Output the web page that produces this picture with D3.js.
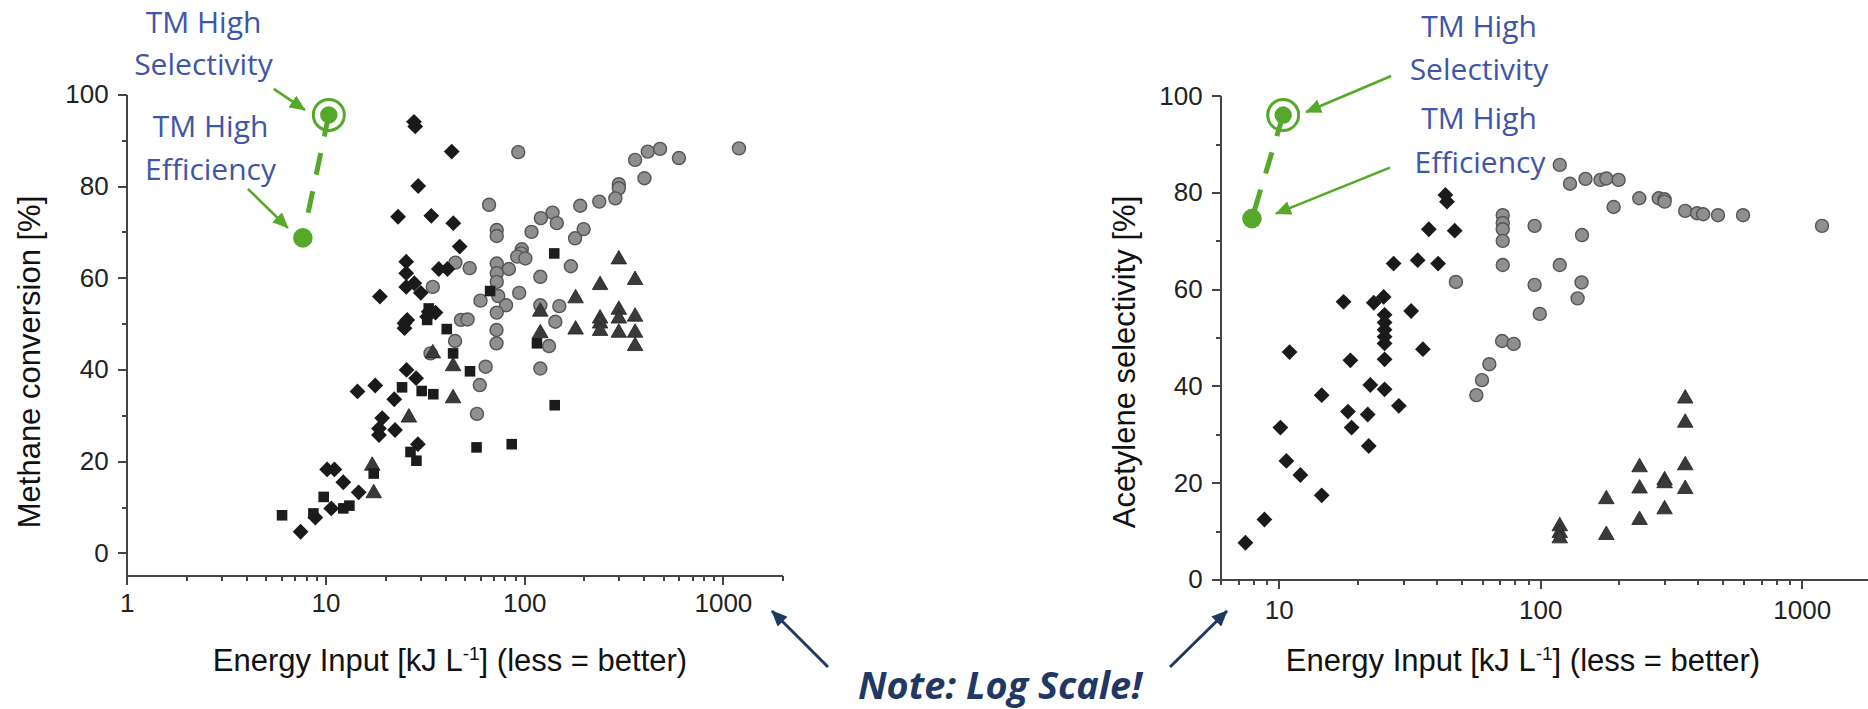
<!DOCTYPE html>
<html>
<head>
<meta charset="utf-8">
<title>Energy input vs methane conversion and acetylene selectivity</title>
<style>
body { margin: 0; background: #ffffff; }
svg { display: block; }
.axis path, .axis line { fill: none; stroke: #444444; stroke-width: 2px; shape-rendering: crispEdges; }
.axis text { font-family: "Liberation Sans", Arial, sans-serif; font-size: 26px; fill: #222222; }
.title { font-family: "Liberation Sans", Arial, sans-serif; font-size: 31px; fill: #111111; }
.tm { font-family: "Open Sans", sans-serif; font-size: 30px; fill: #3f56a6; }
.note { font-family: "Open Sans", sans-serif; font-size: 37px; font-weight: bold; font-style: italic; fill: #1f3864; }
</style>
</head>
<body>
<script src="https://d3js.org/d3.v7.min.js"></script>
<script>
'use strict';

// tick values / labels
const xMajor = [1, 10, 100, 1000];
const yMajor = [0, 20, 40, 60, 80, 100];
const yMinor = [10, 30, 50, 70, 90];

// left panel: methane conversion [%] vs energy input [kJ/L]
const convDiamond = [[7.5,4.6],[8.9,7.7],[10.7,9.7],[10.2,18.2],[11.1,18.2],[12.3,15.4],[14.7,13.2],[14.5,35.2],
  [17.8,36.5],[19.3,29.4],[18.6,27.1],[18.6,25.7],[22.2,33.5],[22.4,26.8],[25.6,39.9],[28.6,38.1],[29.2,23.7],
  [25.0,50.1],[25.0,49.0],[25.8,50.8],[33.1,52.6],[35.8,52.4],[27.9,94.0],[28.3,93.0],[43.2,87.5],[29.3,80.0],
  [23.2,73.3],[34.1,73.5],[44.0,71.9],[47.4,66.8],[37.2,61.9],[41.1,61.9],[25.5,63.5],[25.5,61.0],[25.5,58.0],
  [28.0,58.8],[30.2,56.7],[18.8,55.9],[32.5,51.5]];
const convSquare = [[6.05,8.2],[8.7,8.6],[9.8,12.2],[12.3,9.7],[13.2,10.3],[17.5,17.3],[24.3,36.1],[30.5,35.3],
  [34.9,34.6],[26.8,22.0],[28.7,20.1],[40.8,48.8],[43.9,43.5],[53.4,39.6],[57.6,23.0],[86.6,23.7],[33.1,53.3],
  [32.5,50.8],[67.4,57.1],[141.7,65.3],[116,45.7],[142.5,32.2]];
const convTriangle = [[17.5,13.0],[17.2,19.0],[26.3,29.5],[34.7,43.5],[43.9,40.7],[43.9,33.7],[120.6,52.6],
  [120.6,47.9],[299.5,64.0],[241,58.4],[361.6,59.5],[181.6,55.5],[299.5,53.0],[299.5,51.1],[241,51.1],[241,50.0],
  [361.6,51.5],[181.6,48.7],[241,48.4],[299.5,48.0],[361.6,48.0],[361.6,45.1]];
const convCircle = [[93.4,87.4],[361.6,85.7],[418.9,87.5],[483,88.1],[601,86.1],[1205,88.2],[403,81.7],[299.5,80.4],
  [299.5,79.5],[287.7,77.3],[238.8,76.6],[191.5,75.7],[139,74.2],[121.3,73.0],[146,71.9],[108.9,70.0],[199.2,70.6],
  [180.4,68.6],[66.6,75.9],[72.8,70.4],[72.8,69.1],[171.8,62.5],[120.6,60.2],[150.3,53.8],[143.5,50.4],[133.4,45.1],
  [94.4,56.7],[120.6,54.0],[97.3,66.2],[96.6,65.3],[92.3,64.6],[101.4,64.2],[83.8,61.9],[72.8,63.1],[72.8,61.0],
  [72.8,59.1],[53.2,62.1],[45.1,63.3],[34.7,58.0],[60.3,55.0],[74.1,56.0],[81.1,54.0],[72.8,52.4],[48.1,50.8],
  [51.9,50.9],[72.6,48.6],[72.6,45.7],[44.9,46.2],[64.0,40.6],[59.8,36.6],[120.6,40.2],[57.9,30.3],[33.8,43.5]];
// TM points: [high efficiency, high selectivity]
const convTM = [[7.7,68.7],[10.4,95.5]];

// right panel: acetylene selectivity [%] vs energy input [kJ/L]
const selDiamond = [[7.46,7.6],[8.82,12.4],[10.15,31.4],[10.7,24.5],[11.0,47.0],[12.1,21.6],[14.6,38.1],[14.6,17.4],
  [18.4,34.7],[18.8,45.3],[19.0,31.4],[22.1,27.6],[21.9,34.1],[22.4,40.2],[25.4,39.3],[25.4,45.5],[25.4,48.8],
  [25.4,50.2],[25.4,51.6],[25.4,53.1],[25.4,54.7],[28.8,35.9],[35.6,47.6],[43.4,79.5],[44.0,78.1],[37.5,72.4],
  [47.1,72.1],[27.5,65.3],[34.0,66.0],[40.7,65.3],[17.7,57.4],[23.1,57.2],[25.2,58.4],[32.1,55.5]];
const selCircle = [[57.0,38.1],[59.9,41.2],[63.9,44.5],[71.5,49.3],[79.2,48.7],[71.9,75.3],[71.9,73.7],[71.9,72.4],
  [71.9,70.0],[95.2,73.1],[71.9,65.0],[118.8,65.0],[47.6,61.5],[95.2,60.9],[99.6,54.9],[118.8,85.7],[130,81.8],
  [149,82.8],[170,82.6],[179,82.9],[199.5,82.6],[190.9,77.0],[239.3,78.8],[284,78.8],[299,78.6],[299,78.1],
  [358.6,76.2],[398,75.7],[420,75.5],[478.6,75.3],[596.6,75.3],[1196,73.1],[144.5,71.2],[143.9,61.4],[139,58.1]];
const selTriangle = [[118.8,11.0],[118.8,9.6],[118.8,8.5],[179,16.6],[179,9.2],[239.9,23.2],[239.9,18.8],
  [239.9,12.3],[299,20.5],[299,19.9],[299,14.5],[358.6,37.4],[358.6,32.4],[358.6,23.6],[358.6,18.7]];
const selTM = [[7.9,74.6],[10.4,96.0]];

const green = '#55a82a';
const navy = '#1f3864';

const svg = d3.select('body').append('svg')
  .attr('width', 1868)
  .attr('height', 709);

// arrow heads
const defs = svg.append('defs');
[['head-green', green], ['head-navy', navy]].forEach(function(m) {
  defs.append('marker')
    .attr('id', m[0])
    .attr('viewBox', '0 0 16 14')
    .attr('refX', 15).attr('refY', 7)
    .attr('markerUnits', 'userSpaceOnUse')
    .attr('markerWidth', 16).attr('markerHeight', 14)
    .attr('orient', 'auto')
    .append('path')
    .attr('d', 'M0,0 L16,7 L0,14 Z')
    .attr('fill', m[1]);
});

function drawPanel(p) {
  const x = d3.scaleLog().domain(p.xDomain).range(p.xRange);
  const y = d3.scaleLinear().domain(p.yDomain).range(p.yRange);
  const y0 = y(p.yDomain[0]);
  const g = svg.append('g');

  // x axis: minor ticks then labelled decades
  g.append('g').attr('class', 'axis')
    .attr('transform', 'translate(0,' + y0 + ')')
    .call(d3.axisBottom(x).tickValues(x.ticks()).tickSize(5).tickSizeOuter(0).tickFormat(''));
  g.append('g').attr('class', 'axis')
    .attr('transform', 'translate(0,' + y0 + ')')
    .call(d3.axisBottom(x).tickValues(xMajor.filter(function(d) { return d >= p.xDomain[0]; }))
      .tickSize(9).tickSizeOuter(0).tickPadding(p.xPad).tickFormat(d3.format('d')));

  // y axis
  g.append('g').attr('class', 'axis')
    .attr('transform', 'translate(' + p.xRange[0] + ',0)')
    .call(d3.axisLeft(y).tickValues(yMinor).tickSize(5).tickSizeOuter(0).tickFormat(''));
  g.append('g').attr('class', 'axis')
    .attr('transform', 'translate(' + p.xRange[0] + ',0)')
    .call(d3.axisLeft(y).tickValues(yMajor).tickSize(9).tickSizeOuter(0).tickPadding(9));

  // titles
  g.append('text').attr('class', 'title')
    .attr('transform', 'translate(' + p.yTitleX + ',362) rotate(-90)')
    .attr('text-anchor', 'middle')
    .text(p.yTitle);
  const xt = g.append('text').attr('class', 'title')
    .attr('x', p.xTitleX).attr('y', 671)
    .attr('text-anchor', 'middle');
  xt.append('tspan').text('Energy Input [kJ L');
  xt.append('tspan').attr('dy', -11).attr('font-size', '19px').text('-1');
  xt.append('tspan').attr('dy', 11).text('] (less = better)');

  // markers
  function place(d) { return 'translate(' + x(d[0]) + ',' + y(d[1]) + ')'; }
  g.append('g').selectAll('circle').data(p.circles).enter().append('circle')
    .attr('cx', function(d) { return x(d[0]); })
    .attr('cy', function(d) { return y(d[1]); })
    .attr('r', 6.5)
    .attr('fill', '#8f8f8f').attr('stroke', '#555555').attr('stroke-width', 1.4);
  g.append('g').selectAll('path').data(p.triangles).enter().append('path')
    .attr('d', d3.symbol(d3.symbolTriangle, 105))
    .attr('transform', place)
    .attr('fill', '#3a3a3a').attr('stroke', '#222222').attr('stroke-width', 0.8);
  g.append('g').selectAll('path').data(p.squares).enter().append('path')
    .attr('d', d3.symbol(d3.symbolSquare, 112))
    .attr('transform', place)
    .attr('fill', '#1c1c1c');
  g.append('g').selectAll('path').data(p.diamonds).enter().append('path')
    .attr('d', d3.symbol(d3.symbolSquare, 125))
    .attr('transform', function(d) { return place(d) + ' rotate(45)'; })
    .attr('fill', '#1a1a1a');

  // TM points
  const e = [x(p.tm[0][0]), y(p.tm[0][1])];
  const s = [x(p.tm[1][0]), y(p.tm[1][1])];
  g.append('line')
    .attr('x1', s[0]).attr('y1', s[1]).attr('x2', e[0]).attr('y2', e[1])
    .attr('stroke', green).attr('stroke-width', 5).attr('stroke-dasharray', '22 17');
  g.append('circle').attr('cx', s[0]).attr('cy', s[1]).attr('r', 15.5)
    .attr('fill', 'none').attr('stroke', green).attr('stroke-width', 3);
  g.append('circle').attr('cx', s[0]).attr('cy', s[1]).attr('r', 8.7).attr('fill', green);
  g.append('circle').attr('cx', e[0]).attr('cy', e[1]).attr('r', 9.8).attr('fill', green);

  // green arrows and labels
  [[s, p.selArrow], [e, p.effArrow]].forEach(function(a) {
    g.append('line')
      .attr('x1', a[0][0] + a[1][0]).attr('y1', a[0][1] + a[1][1])
      .attr('x2', a[0][0] + a[1][2]).attr('y2', a[0][1] + a[1][3])
      .attr('stroke', green).attr('stroke-width', 2.6)
      .attr('marker-end', 'url(#head-green)');
  });
  p.labels.forEach(function(l) {
    g.append('text').attr('class', 'tm')
      .attr('x', l[0]).attr('y', l[1])
      .attr('text-anchor', 'middle')
      .text(l[2]);
  });
}

drawPanel({
  xDomain: [1, 2000], xRange: [126.7, 782.7],
  yDomain: [-5, 100], yRange: [575.8, 94.3],
  xPad: 9, yTitle: 'Methane conversion [%]', yTitleX: 40, xTitleX: 450,
  diamonds: convDiamond, squares: convSquare, triangles: convTriangle, circles: convCircle, tm: convTM,
  selArrow: [-55, -26, -24, -5], effArrow: [-55, -49, -15, -10],
  labels: [[203.5, 33, 'TM High'], [203.5, 75, 'Selectivity'], [210.5, 137, 'TM High'], [210.5, 180, 'Efficiency']]
});

drawPanel({
  xDomain: [6, 2000], xRange: [1220.7, 1880.4],
  yDomain: [0, 100], yRange: [579.5, 95.7],
  xPad: 12, yTitle: 'Acetylene selectivity [%]', yTitleX: 1135, xTitleX: 1523,
  diamonds: selDiamond, squares: [], triangles: selTriangle, circles: selCircle, tm: selTM,
  selArrow: [108, -39, 23, -3], effArrow: [138, -51, 24, -5],
  labels: [[1479, 37, 'TM High'], [1479, 80, 'Selectivity'], [1479, 129, 'TM High'], [1480, 173, 'Efficiency']]
});

// log-scale note with arrows to both x axes
[[828, 667, 772, 611], [1170, 667, 1227, 611]].forEach(function(a) {
  svg.append('line')
    .attr('x1', a[0]).attr('y1', a[1]).attr('x2', a[2]).attr('y2', a[3])
    .attr('stroke', navy).attr('stroke-width', 3)
    .attr('marker-end', 'url(#head-navy)');
});
svg.append('text').attr('class', 'note')
  .attr('x', 1000).attr('y', 699)
  .attr('text-anchor', 'middle')
  .attr('textLength', 284).attr('lengthAdjust', 'spacingAndGlyphs')
  .text('Note: Log Scale!');
</script>
</body>
</html>
